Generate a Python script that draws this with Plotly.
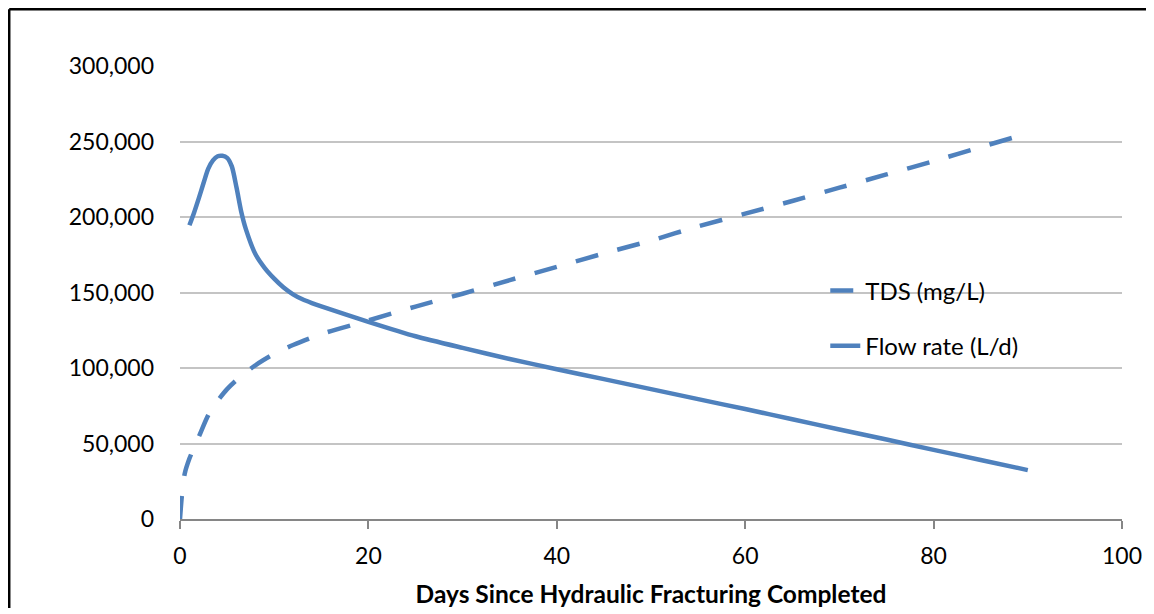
import plotly.graph_objects as go

# ---- data ----
tds_days = [0, 0.2, 0.5, 1, 1.5, 2, 3, 4, 5, 6, 8, 10, 12, 15, 20, 25, 30, 35, 40,
            45, 50, 55, 60, 65, 70, 75, 80, 85, 90]
tds_mg_l = [0, 15500, 30000, 40000, 47500, 54500, 68800, 78300, 86000, 92000,
            101800, 109400, 115200, 122500, 131500, 140700, 149200, 158200, 167000,
            175900, 184400, 193800, 202200, 210600, 219400, 228200, 237000, 246300, 255400]

flow_days = [1, 1.5, 2, 2.5, 3, 3.5, 4, 4.5, 5, 5.5, 6, 6.5, 7, 8, 9, 10, 11, 12, 13,
             14, 15, 20, 25, 30, 35, 40, 45, 50, 55, 60, 65, 70, 75, 80, 85, 90]
flow_l_d = [194500, 203000, 212500, 222500, 232000, 237500, 240200, 240500, 239200,
            233500, 219500, 203500, 191800, 175500, 166200, 159200, 153300, 148800,
            145500, 143000, 140800, 130600, 121000, 113300, 106000, 99200, 92600,
            86000, 79400, 72800, 66100, 59300, 52600, 45800, 39100, 32400]

x_ticks = [0, 20, 40, 60, 80, 100]
y_ticks = [0, 50000, 100000, 150000, 200000, 250000, 300000]

BLUE = "#4F81BD"
FONT = "Lato"

fig = go.Figure()
fig.add_trace(go.Scatter(
    x=tds_days, y=tds_mg_l, mode="lines", name="TDS (mg/L)",
    line=dict(color=BLUE, width=4.5, dash="23px,20px", shape="spline", smoothing=0.7),
    legendgroup="a",
))
fig.add_trace(go.Scatter(
    x=flow_days, y=flow_l_d, mode="lines", name="Flow rate (L/d)",
    line=dict(color=BLUE, width=4.5, shape="spline", smoothing=0.7),
    legendgroup="b",
))

frame = dict(color="black", width=2.5)
fig.update_layout(
    width=1138, height=600,
    margin=dict(l=172, r=24, t=58, b=89, autoexpand=False),
    paper_bgcolor="white", plot_bgcolor="white",
    font=dict(family=FONT, size=23, color="black"),
    showlegend=True,
    legend=dict(x=0.685, y=0.553, xanchor="left", yanchor="top",
                bgcolor="rgba(0,0,0,0)", font=dict(size=24, family=FONT),
                tracegroupgap=21, itemwidth=30),
    xaxis=dict(range=[0, 100], tickvals=x_ticks, showgrid=False, zeroline=False,
               showline=True, linecolor="#868686", linewidth=1.5,
               ticks="outside", ticklen=8, tickcolor="#868686", tickwidth=1.5,
               ticklabelstandoff=8, automargin=False,
               tickfont=dict(size=23, family=FONT),
               title=dict(text="<b>Days Since Hydraulic Fracturing Completed</b>",
                          font=dict(size=24.5, family=FONT), standoff=25)),
    yaxis=dict(range=[0, 300000], tickvals=y_ticks, tickformat=",",
               showgrid=True, gridcolor="#C4C4C4", gridwidth=1.5, zeroline=False,
               showline=False, ticks="", ticklabelstandoff=25, automargin=False,
               tickfont=dict(size=23, family=FONT)),
    shapes=[
        dict(type="line", xref="paper", yref="paper",
             x0=-0.1813, x1=-0.1813, y0=-0.3, y1=1.1253, line=frame, layer="above"),
        dict(type="line", xref="paper", yref="paper",
             x0=-0.1813, x1=1.1, y0=1.1253, y1=1.1253, line=frame, layer="above"),
    ],
)

fig.write_html("out.html")
